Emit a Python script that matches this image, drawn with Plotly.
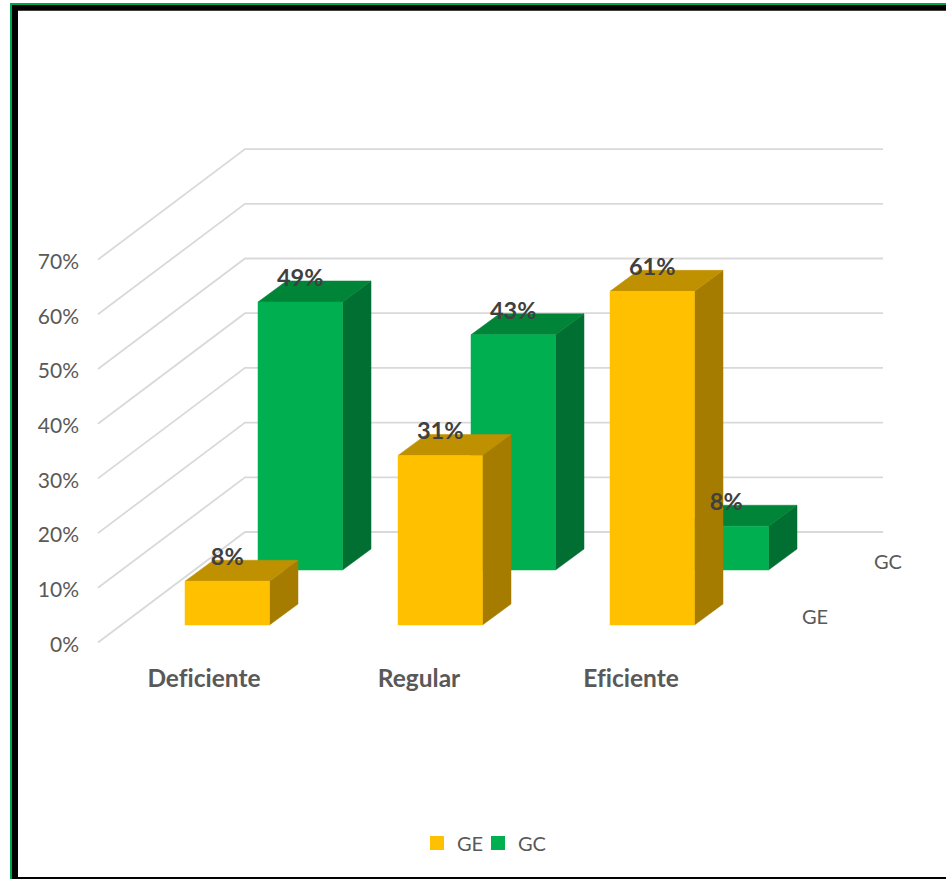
import plotly.graph_objects as go

# ---- data ----
categories = ["Deficiente", "Regular", "Eficiente"]
ge_values = [8, 31, 61]
gc_values = [49, 43, 8]
tick_values = [0, 10, 20, 30, 40, 50, 60, 70]
tick_labels = ["0%", "10%", "20%", "30%", "40%", "50%", "60%", "70%"]

# ---- oblique 3D layout constants (canvas units are pixels on x, % on y) ----
W, H = 946, 879
PLOT_L, PLOT_B = 84, 656
ZERO_PX = 642.5
PX_PER_PCT = 5.47


def pct(px_y):
    return (ZERO_PX - px_y) / PX_PER_PCT


BAR_W = 84.5
DEPTH_X, DEPTH_Y = 28.5, 21 / PX_PER_PCT
GE_LEFT = [185, 398, 610]
GC_LEFT = [258, 471, 684]
GE_BASE = pct(625)
GC_BASE = pct(570)
CAT_X = [204, 419, 631]
WALL_BACK_X, WALL_FRONT_X, WALL_RIGHT_X = 245, 98, 883
WALL_DY = 110.5 / PX_PER_PCT

GE_COL = dict(front="#FFC000", top="#BF9000", side="#A67C00")
GC_COL = dict(front="#00B050", top="#008438", side="#006F31")

fig = go.Figure()

# walls: gridlines on the left wall and the back wall
for v in tick_values:
    fig.add_trace(go.Scatter(
        x=[WALL_FRONT_X, WALL_BACK_X, WALL_RIGHT_X],
        y=[v, v + WALL_DY, v + WALL_DY],
        mode="lines", line=dict(color="#D9D9D9", width=1.8),
        showlegend=False, hoverinfo="skip"))


def poly(xs, ys, color):
    fig.add_trace(go.Scatter(
        x=xs + xs[:1], y=ys + ys[:1], mode="lines", fill="toself",
        fillcolor=color, line=dict(color=color, width=0.5),
        showlegend=False, hoverinfo="skip"))


def box(left, base, value, col):
    r = left + BAR_W
    t = base + value
    poly([r, r + DEPTH_X, r + DEPTH_X, r], [base, base + DEPTH_Y, t + DEPTH_Y, t], col["side"])
    poly([left, r, r + DEPTH_X, left + DEPTH_X], [t, t, t + DEPTH_Y, t + DEPTH_Y], col["top"])
    poly([left, r, r, left], [base, base, t, t], col["front"])


for left, v in zip(GC_LEFT, gc_values):
    box(left, GC_BASE, v, GC_COL)
for left, v in zip(GE_LEFT, ge_values):
    box(left, GE_BASE, v, GE_COL)

# data labels
for lefts, vals, base in ((GC_LEFT, gc_values, GC_BASE), (GE_LEFT, ge_values, GE_BASE)):
    fig.add_trace(go.Scatter(
        x=[l + BAR_W / 2 for l in lefts],
        y=[base + v + DEPTH_Y + 0.15 for v in vals],
        text=[f"{v}%" for v in vals],
        mode="text", textposition="middle center",
        textfont=dict(family="Lato", size=23.5, color="#404040", weight="bold"),
        showlegend=False, hoverinfo="skip"))

# series-axis labels
fig.add_trace(go.Scatter(
    x=[815, 888], y=[pct(619), pct(564)], text=["GE", "GC"],
    mode="text", textposition="middle center",
    textfont=dict(family="Lato", size=20, color="#595959"),
    showlegend=False, hoverinfo="skip"))

# legend entries (one legend per series, to space them as in the reference)
for name, color, lg in (("GE", GE_COL["front"], "legend"), ("GC", GC_COL["front"], "legend2")):
    fig.add_trace(go.Scatter(
        x=[None], y=[None], name=name, mode="markers", legend=lg,
        marker=dict(symbol="square", size=14, color=color)))

fy = lambda p: (PLOT_B - p) / PLOT_B
fx = lambda p: (p - PLOT_L) / (W - PLOT_L)


def rect(x0, y0, x1, y1, color):
    return dict(type="rect", xref="paper", yref="paper",
                x0=fx(x0), x1=fx(x1), y0=fy(y0), y1=fy(y1),
                fillcolor=color, line=dict(width=0), layer="above")


def legend_at(px):
    return dict(orientation="h", x=fx(px), xanchor="left", y=fy(843), yanchor="middle",
                bgcolor="rgba(0,0,0,0)",
                font=dict(family="Lato", size=20, color="#595959"),
                itemclick=False, itemdoubleclick=False)


fig.update_layout(
    width=W, height=H, autosize=False,
    margin=dict(l=PLOT_L, r=0, t=0, b=H - PLOT_B),
    paper_bgcolor="white", plot_bgcolor="white",
    font=dict(family="Lato", color="#595959"),
    xaxis=dict(range=[PLOT_L, W], showgrid=False, zeroline=False, showline=False,
               tickmode="array", tickvals=CAT_X, ticktext=[f"<b>{c}</b>" for c in categories],
               tickfont=dict(family="Lato", size=24.5, color="#595959"),
               ticks="", ticklabelstandoff=5, automargin=False, fixedrange=True),
    yaxis=dict(range=[pct(PLOT_B), pct(0)], showgrid=False, zeroline=False, showline=False,
               tickmode="array", tickvals=tick_values, ticktext=tick_labels,
               tickfont=dict(family="Lato", size=21, color="#595959"),
               ticks="", ticklabelstandoff=4, ticklabelshift=2, automargin=False, fixedrange=True),
    showlegend=True,
    legend=legend_at(417),
    legend2=legend_at(478),
    shapes=[
        rect(10, 3, W, 5, "#00A550"),
        rect(10, 3, 12, H, "#00A550"),
        rect(12, 5, W, 10, "#000000"),
        rect(18, 10, W, 11, "#404040"),
        rect(12, 5, 18, H, "#000000"),
        rect(12, 877, W, H, "#000000"),
    ],
)

fig.write_html(
    "out.html",
    config=dict(displayModeBar=False),
    post_script=("document.body.style.margin='0';"
                 "var s=document.createElement('style');"
                 "s.textContent='text{font-variant-ligatures:none !important;}';"
                 "document.head.appendChild(s);"),
)
